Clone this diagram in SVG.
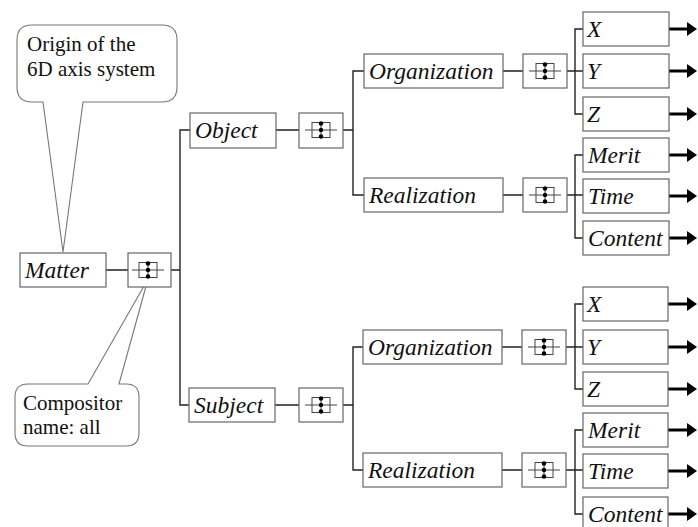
<svg xmlns="http://www.w3.org/2000/svg" width="698" height="527" viewBox="0 0 698 527">
  <defs>
    <style>
      .box { fill: #fff; stroke: #666; stroke-width: 1.2; }
      .lbl { font-style: italic; font-size: 23.5px; fill: #111; }
      .note { font-size: 21px; fill: #111; }
      .bubble { fill: #fff; stroke: #777; stroke-width: 1.1; }
      .wire { fill: none; stroke: #222; stroke-width: 1.4; }
      .arrow { fill: none; stroke: #000; stroke-width: 3; marker-end: url(#head); }
      .icon-rect { fill: none; stroke: #444; stroke-width: 1; }
      .icon-line { stroke: #444; stroke-width: 1; }
    </style>
    <marker id="head" viewBox="0 0 10 14" refX="2" refY="7" markerWidth="10" markerHeight="14" markerUnits="userSpaceOnUse" orient="auto">
      <path d="M0,0 L10,7 L0,14 Z" fill="#000"/>
    </marker>
    <!-- compositor "all" symbol, centred on 0,0 -->
    <g id="allIcon">
      <line class="icon-line" x1="-16" y1="0" x2="16" y2="0"/>
      <rect class="icon-rect" x="-9" y="-7.5" width="18" height="15"/>
      <line class="icon-line" x1="0" y1="-6.5" x2="0" y2="6.5"/>
      <circle cx="0" cy="-6.5" r="2.2" fill="#000"/>
      <circle cx="0" cy="0" r="2.2" fill="#000"/>
      <circle cx="0" cy="6.5" r="2.2" fill="#000"/>
    </g>
  </defs>

  <rect width="698" height="527" fill="#fff"/>

  <!-- connectors -->
  <g id="connectors">
    <!-- root -->
    <path class="wire" d="M106,270 H128 M171,270 H180 M190,130 H180 V405 H190"/>
    <!-- object branch -->
    <path class="wire" d="M276,130 H299 M343,130 H353 M364,71 H353 V195 H364"/>
    <path class="wire" d="M503,71 H523 M567,71 H583 M583,29 H575 V114 H583"/>
    <path class="wire" d="M503,195 H523 M567,195 H583 M583,155 H575 V238 H583"/>
    <!-- subject branch -->
    <path class="wire" d="M275,405 H299 M343,405 H353 M364,347 H353 V470 H364"/>
    <path class="wire" d="M502,347 H522 M566,347 H583 M583,304 H575 V389 H583"/>
    <path class="wire" d="M502,470 H522 M566,470 H583 M583,430 H575 V514 H583"/>
    <!-- axis outputs -->
    <path class="arrow" d="M669,29 H689"/>
    <path class="arrow" d="M669,71 H689"/>
    <path class="arrow" d="M669,114 H689"/>
    <path class="arrow" d="M669,155 H689"/>
    <path class="arrow" d="M669,196 H689"/>
    <path class="arrow" d="M669,238 H689"/>
    <path class="arrow" d="M668,304 H689"/>
    <path class="arrow" d="M668,347 H689"/>
    <path class="arrow" d="M668,389 H689"/>
    <path class="arrow" d="M668,430 H689"/>
    <path class="arrow" d="M668,471 H689"/>
    <path class="arrow" d="M668,514 H689"/>
  </g>

  <g font-family="Liberation Serif, Times New Roman, serif">
  <!-- callouts -->
  <g id="note-origin">
    <path class="bubble" d="M43,102 L63,252 L83,102 H162 Q177,102 177,87 V40 Q177,25 162,25 H32 Q17,25 17,40 V87 Q17,102 32,102 Z"/>
    <text class="note" x="27" y="51">Origin of the</text>
    <text class="note" x="27" y="76">6D axis system</text>
  </g>
  <g id="note-compositor">
    <path class="bubble" d="M88,384 L148,279 L119,384 H126 Q139,384 139,397 V433 Q139,446 126,446 H28 Q15,446 15,433 V397 Q15,384 28,384 Z"/>
    <text class="note" x="23" y="410">Compositor</text>
    <text class="note" x="23" y="434">name: all</text>
  </g>

  <!-- root -->
  <g id="matter"><rect class="box" x="20" y="253" width="86" height="34"/><text class="lbl" x="25" y="278">Matter</text></g>
  <g id="matter-all"><rect class="box" x="128" y="253" width="43" height="34"/><use href="#allIcon" x="148" y="270"/></g>

  <!-- object branch -->
  <g id="object"><rect class="box" x="190" y="113" width="86" height="35"/><text class="lbl" x="195" y="138">Object</text></g>
  <g id="object-all"><rect class="box" x="299" y="113" width="44" height="35"/><use href="#allIcon" x="321" y="130"/></g>

  <g id="object-organization"><rect class="box" x="364" y="54" width="139" height="34"/><text class="lbl" x="369" y="79">Organization</text></g>
  <g id="object-organization-all"><rect class="box" x="523" y="54" width="44" height="34"/><use href="#allIcon" x="545" y="71"/></g>
  <g id="object-x"><rect class="box" x="583" y="12" width="86" height="34"/><text class="lbl" x="587" y="37">X</text></g>
  <g id="object-y"><rect class="box" x="583" y="54" width="86" height="34"/><text class="lbl" x="587" y="79">Y</text></g>
  <g id="object-z"><rect class="box" x="583" y="97" width="86" height="34"/><text class="lbl" x="587" y="122">Z</text></g>

  <g id="object-realization"><rect class="box" x="364" y="178" width="139" height="34"/><text class="lbl" x="369" y="203">Realization</text></g>
  <g id="object-realization-all"><rect class="box" x="523" y="178" width="44" height="34"/><use href="#allIcon" x="545" y="195"/></g>
  <g id="object-merit"><rect class="box" x="583" y="138" width="86" height="34"/><text class="lbl" x="588" y="163">Merit</text></g>
  <g id="object-time"><rect class="box" x="583" y="179" width="86" height="34"/><text class="lbl" x="588" y="204">Time</text></g>
  <g id="object-content"><rect class="box" x="583" y="221" width="86" height="34"/><text class="lbl" x="588" y="246">Content</text></g>

  <!-- subject branch -->
  <g id="subject"><rect class="box" x="189" y="388" width="86" height="34"/><text class="lbl" x="194" y="413">Subject</text></g>
  <g id="subject-all"><rect class="box" x="299" y="388" width="44" height="34"/><use href="#allIcon" x="321" y="405"/></g>

  <g id="subject-organization"><rect class="box" x="363" y="330" width="139" height="34"/><text class="lbl" x="368" y="355">Organization</text></g>
  <g id="subject-organization-all"><rect class="box" x="522" y="330" width="44" height="34"/><use href="#allIcon" x="544" y="347"/></g>
  <g id="subject-x"><rect class="box" x="583" y="287" width="85" height="34"/><text class="lbl" x="587" y="312">X</text></g>
  <g id="subject-y"><rect class="box" x="583" y="330" width="85" height="34"/><text class="lbl" x="587" y="355">Y</text></g>
  <g id="subject-z"><rect class="box" x="583" y="372" width="85" height="34"/><text class="lbl" x="587" y="397">Z</text></g>

  <g id="subject-realization"><rect class="box" x="363" y="453" width="139" height="34"/><text class="lbl" x="368" y="478">Realization</text></g>
  <g id="subject-realization-all"><rect class="box" x="522" y="453" width="44" height="34"/><use href="#allIcon" x="544" y="470"/></g>
  <g id="subject-merit"><rect class="box" x="583" y="413" width="85" height="34"/><text class="lbl" x="588" y="438">Merit</text></g>
  <g id="subject-time"><rect class="box" x="583" y="454" width="85" height="34"/><text class="lbl" x="588" y="479">Time</text></g>
  <g id="subject-content"><rect class="box" x="583" y="497" width="85" height="34"/><text class="lbl" x="588" y="522">Content</text></g>
  </g>
</svg>
